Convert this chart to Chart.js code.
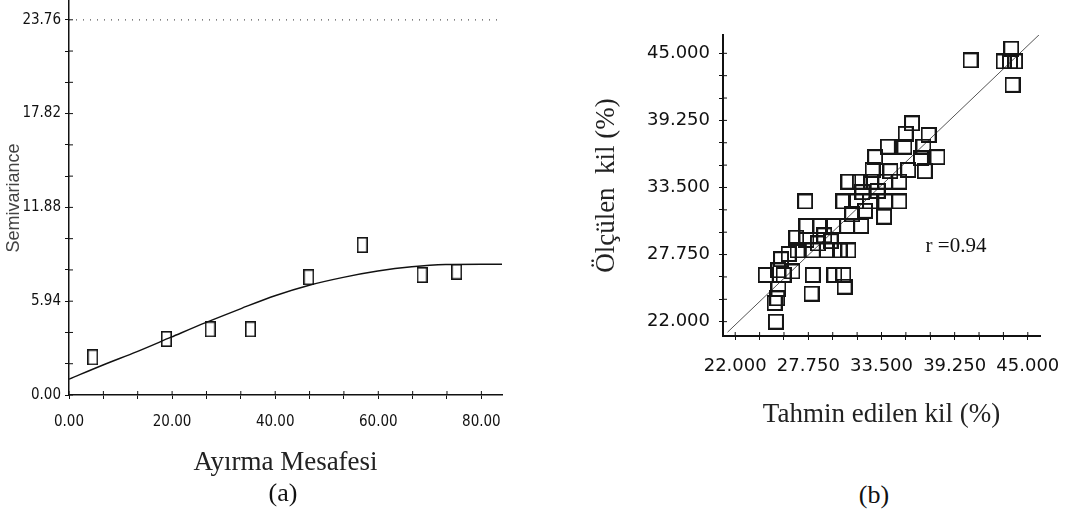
<!DOCTYPE html>
<html lang="tr">
<head>
  <meta charset="UTF-8" />
  <title>Semivariogram ve tahmin grafiği</title>
  <script src="https://cdn.jsdelivr.net/npm/chart.js@4.4.1/dist/chart.umd.min.js"></script>
  <style>
    body {
      margin: 0;
      background: #fff;
      width: 1069px;
      height: 524px;
      position: relative;
      overflow: hidden;
    }
    .panel { position: absolute; }
    .txt {
      position: absolute;
      font-family: 'Liberation Serif', 'DejaVu Serif', serif;
      color: #111;
      transform: translate(-50%, -50%);
      white-space: pre;
    }
  </style>
</head>
<body>
  <div class="panel" style="left:0;top:0;width:540px;height:480px"><canvas id="chartA"></canvas></div>
  <div class="panel" style="left:560px;top:0;width:509px;height:440px"><canvas id="chartB"></canvas></div>
  <div class="txt" style="left:283px;top:493px;font-size:26px">(a)</div>
  <div class="txt" style="left:874px;top:495px;font-size:26px">(b)</div>
  <div class="txt" style="left:956px;top:245px;font-size:21px">r =0.94</div>

  <script>
    // (a) semivariogram
    const lagDist = [4.6, 18.9, 27.4, 35.2, 46.5, 56.9, 68.5, 75.2];
    const semivar = [2.39, 3.55, 4.16, 4.16, 7.46, 9.5, 7.6, 7.81];
    const modelX = [0, 6.6, 13.2, 19.8, 26.5, 33.5, 40.1, 46.6, 53.2, 59.9, 66.5, 73.1, 80, 84];
    const modelY = [1.0, 1.9, 2.75, 3.66, 4.58, 5.49, 6.3, 6.95, 7.45, 7.85, 8.12, 8.26, 8.28, 8.28];
    const topLineY = 23.76;
    const aXTicks = [0, 6.67, 13.33, 20, 26.67, 33.33, 40, 46.67, 53.33, 60, 66.67, 73.33, 80];
    const aXLabels = ['0.00', '', '', '20.00', '', '', '40.00', '', '', '60.00', '', '', '80.00'];
    const aYTicks = [0, 1.98, 3.96, 5.94, 7.92, 9.9, 11.88, 13.86, 15.84, 17.82, 19.8, 21.78, 23.76];
    const aYLabels = ['0.00', '', '', '5.94', '', '', '11.88', '', '', '17.82', '', '', '23.76'];

    // (b) tahmin edilen / olculen kil
    const predClay = [25.2, 25.1, 25.3, 25.4, 24.4, 25.8, 25.4, 26.5, 28.1, 29.8, 30.5, 30.6, 28.0,
      25.6, 26.2, 26.8, 26.9, 28.1, 29.2, 30.2, 30.9, 27.6, 28.5, 29.5, 27.6, 28.7, 29.7, 30.8, 31.9,
      27.5, 33.7, 30.5, 31.5, 32.6, 33.8, 34.9, 30.9, 31.8, 32.7, 33.8, 34.9, 32.8, 34.2, 35.6, 36.9,
      33.0, 36.6, 37.9, 34.0, 35.3, 36.8, 35.4, 37.2, 35.9, 40.5, 43.7, 43.1, 43.6, 44.0, 43.8,
      31.2, 32.2, 32.0, 33.2, 29.0];
    const measClay = [22.0, 23.6, 24.0, 24.8, 26.0, 26.0, 26.4, 26.3, 26.0, 26.0, 26.0, 25.0, 24.4,
      27.35, 27.8, 29.2, 28.1, 28.1, 28.1, 28.1, 28.1, 29.0, 28.7, 28.9, 30.2, 30.2, 30.2, 30.2, 30.2,
      32.3, 31.0, 32.3, 32.3, 32.3, 32.3, 32.3, 34.0, 34.0, 34.0, 34.0, 34.0, 35.0, 34.9, 35.0, 34.9,
      36.1, 36.0, 36.1, 37.0, 37.0, 37.0, 38.1, 38.0, 39.0, 44.4, 45.4, 44.3, 44.3, 44.3, 42.3,
      31.2, 31.5, 33.1, 33.2, 29.4];
    const fitX = [21.4, 45.9];
    const fitY = [21.1, 46.6];
    const bTicks = [22, 23.917, 25.833, 27.75, 29.667, 31.583, 33.5, 35.417, 37.333, 39.25, 41.167, 43.083, 45];
    const bLabels = ['22.000', '', '', '27.750', '', '', '33.500', '', '', '39.250', '', '', '45.000'];

    Chart.defaults.color = '#111';
    Chart.defaults.animation = false;

    const narrow = "'Liberation Sans Narrow', 'DejaVu Sans Condensed', sans-serif";
    const serif = "'Liberation Serif', 'DejaVu Serif', serif";

    function boxMarker(w, h, lw) {
      const c = document.createElement('canvas');
      c.width = w;
      c.height = h;
      const g = c.getContext('2d');
      g.strokeStyle = '#151515';
      g.lineWidth = lw;
      g.strokeRect(lw / 2, lw / 2, w - lw, h - lw);
      return c;
    }

    // fixed axis boxes, no extra room for the end labels
    const fixX = h => s => { s.height = h; s.paddingLeft = 0; s.paddingRight = 0; };
    const fixY = w => s => { s.width = w; s.paddingTop = 0; s.paddingBottom = 0; };

    // small marks on the inner side of the axes, so ticks look like crosses
    const innerTicks = {
      id: 'innerTicks',
      afterDraw(chart) {
        const { ctx, scales: { x, y } } = chart;
        ctx.save();
        ctx.strokeStyle = '#111';
        ctx.lineWidth = 1;
        x.ticks.forEach(t => {
          const px = x.getPixelForValue(t.value);
          ctx.beginPath(); ctx.moveTo(px, x.top); ctx.lineTo(px, x.top - 4); ctx.stroke();
        });
        y.ticks.forEach(t => {
          const py = y.getPixelForValue(t.value);
          ctx.beginPath(); ctx.moveTo(y.right, py); ctx.lineTo(y.right + 4, py); ctx.stroke();
        });
        ctx.restore();
      }
    };

    const toPts = (xs, ys) => xs.map((v, i) => ({ x: v, y: ys[i] }));

    new Chart(document.getElementById('chartA'), {
      type: 'scatter',
      data: {
        datasets: [
          {
            data: [{ x: 0, y: topLineY }, { x: 84, y: topLineY }],
            showLine: true,
            borderColor: '#555',
            borderWidth: 1.2,
            borderDash: [1, 6],
            pointRadius: 0
          },
          {
            data: toPts(modelX, modelY),
            showLine: true,
            borderColor: '#111',
            borderWidth: 1.4,
            cubicInterpolationMode: 'monotone',
            pointRadius: 0
          },
          {
            data: toPts(lagDist, semivar),
            pointStyle: boxMarker(11, 16, 1.6),
            pointRadius: 6
          }
        ]
      },
      options: {
        responsive: true,
        maintainAspectRatio: false,
        events: [],
        layout: { autoPadding: false, padding: { top: 1, right: 38, left: 0, bottom: 0 } },
        plugins: { legend: { display: false }, tooltip: { enabled: false } },
        scales: {
          x: {
            type: 'linear',
            min: 0,
            max: 84,
            afterBuildTicks: s => { s.ticks = aXTicks.map(v => ({ value: v })); },
            afterFit: fixX(85),
            ticks: {
              callback: (v, i) => aXLabels[i],
              autoSkip: false,
              maxRotation: 0,
              padding: 14,
              font: { family: narrow, size: 15 }
            },
            grid: { drawOnChartArea: false, tickLength: 4, color: '#111' },
            border: { color: '#111', width: 1.5 },
            title: {
              display: true,
              text: 'Ayırma Mesafesi',
              color: '#222',
              font: { family: serif, size: 27 },
              padding: { top: 0, bottom: 1 }
            }
          },
          y: {
            min: 0,
            max: 24.95,
            afterBuildTicks: s => { s.ticks = aYTicks.map(v => ({ value: v })); },
            afterFit: fixY(69),
            ticks: {
              callback: (v, i) => aYLabels[i],
              autoSkip: false,
              padding: 4,
              font: { family: narrow, size: 15 }
            },
            grid: { drawOnChartArea: false, tickLength: 4, color: '#111' },
            border: { color: '#111', width: 1.5 },
            title: {
              display: true,
              text: 'Semivariance',
              color: '#444',
              font: { family: "'Liberation Sans', Arial, sans-serif", size: 18 },
              padding: { top: 3, bottom: 0 }
            }
          }
        }
      },
      plugins: [innerTicks]
    });

    new Chart(document.getElementById('chartB'), {
      type: 'scatter',
      data: {
        datasets: [
          {
            data: toPts(predClay, measClay),
            pointStyle: boxMarker(16, 16, 2),
            pointRadius: 8
          },
          {
            data: toPts(fitX, fitY),
            showLine: true,
            borderColor: '#555',
            borderWidth: 1,
            pointRadius: 0
          }
        ]
      },
      options: {
        responsive: true,
        maintainAspectRatio: false,
        events: [],
        layout: { autoPadding: false, padding: { top: 35, right: 29, left: 0, bottom: 0 } },
        plugins: { legend: { display: false }, tooltip: { enabled: false } },
        scales: {
          x: {
            type: 'linear',
            min: 21.04,
            max: 45.96,
            afterBuildTicks: s => { s.ticks = bTicks.map(v => ({ value: v })); },
            afterFit: fixX(104),
            ticks: {
              callback: (v, i) => bLabels[i],
              autoSkip: false,
              maxRotation: 0,
              padding: 16,
              font: { family: "'DejaVu Sans', sans-serif", size: 18 }
            },
            grid: { drawOnChartArea: false, tickLength: 4, color: '#111' },
            border: { color: '#111', width: 2 },
            title: {
              display: true,
              text: 'Tahmin edilen kil (%)',
              color: '#222',
              font: { family: serif, size: 27 },
              padding: { top: 0, bottom: 9 }
            }
          },
          y: {
            min: 20.77,
            max: 46.57,
            afterBuildTicks: s => { s.ticks = bTicks.map(v => ({ value: v })); },
            afterFit: fixY(163),
            ticks: {
              callback: (v, i) => bLabels[i],
              autoSkip: false,
              padding: 9,
              font: { family: "'DejaVu Sans', sans-serif", size: 18 }
            },
            grid: { drawOnChartArea: false, tickLength: 4, color: '#111' },
            border: { color: '#111', width: 2 },
            title: {
              display: true,
              text: 'Ölçülen  kil (%)',
              color: '#222',
              font: { family: serif, size: 27 },
              padding: { top: 31, bottom: 0 }
            }
          }
        }
      },
      plugins: [innerTicks]
    });
  </script>
</body>
</html>
